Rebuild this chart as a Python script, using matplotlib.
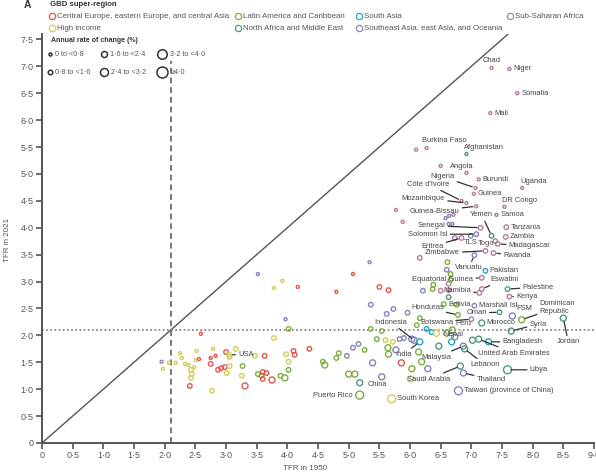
import numpy as np
import matplotlib
matplotlib.use("Agg")
import matplotlib.pyplot as plt
from matplotlib.ticker import FuncFormatter, MultipleLocator

plt.rcParams['font.family'] = ['Liberation Sans', 'DejaVu Sans']

# super-regions and their colours
regions = ['CEE', 'LAC', 'SA', 'SSA', 'HI', 'NAME', 'SEA']
region_names = {
    'CEE': 'Central Europe, eastern Europe, and central Asia',
    'LAC': 'Latin America and Caribbean',
    'SA': 'South Asia',
    'SSA': 'Sub-Saharan Africa',
    'HI': 'High income',
    'NAME': 'North Africa and Middle East',
    'SEA': 'Southeast Asia, east Asia, and Oceania',
}
region_colors = {
    'CEE': '#e2564e', 'LAC': '#7aaf3e', 'SA': '#23a5c8', 'SSA': '#b67ca2',
    'HI': '#d2ce55', 'NAME': '#4d9a7c', 'SEA': '#8585b8',
}

# labelled countries: name, TFR 1950, TFR 2021, region
lab_names = ['Chad', 'Niger', 'Somalia', 'Mali', 'Burkina Faso', 'Afghanistan', 'Angola',
             'Burundi', 'Uganda', 'Nigeria', 'Guinea', "Côte d'Ivoire", 'Mozambique',
             'DR Congo', 'Guinea-Bissau', 'Yemen', 'Samoa', 'Tanzania', 'Zambia',
             'Madagascar', 'Rwanda', 'Senegal', 'Solomon Isl', 'Eritrea', 'TLS', 'Togo',
             'Zimbabwe', 'Vanuatu', 'Pakistan', 'Equatorial Guinea', 'Eswatini', 'Namibia',
             'Palestine', 'Kenya', 'Bolivia', 'Marshall Isl', 'Honduras', 'Oman', 'FSM',
             'Dominican\nRepublic', 'Jordan', 'Botswana', 'Morocco', 'Syria', 'Peru',
             'Indonesia', 'Nepal', 'Bangladesh', 'United Arab Emirates', 'India', 'Malaysia',
             'Lebanon', 'Libya', 'Saudi Arabia', 'Thailand', 'Taiwan (province of China)',
             'South Korea', 'China', 'Puerto Rico', 'USA']
lab_1950 = [7.33, 7.62, 7.75, 7.31, 6.27, 6.92, 6.92,
            7.12, 7.83, 7.07, 7.04, 6.84, 6.92,
            7.54, 7.08, 7.33, 7.41, 7.57, 7.56,
            7.43, 7.36, 7.15, 7.08, 6.84, 6.99, 7.39,
            7.23, 7.05, 7.23, 7.17, 7.17, 7.13,
            7.59, 7.62, 6.55, 7.05, 6.78, 7.46, 7.67,
            7.82, 8.50, 7.00, 7.17, 7.65, 6.69,
            6.07, 6.68, 7.28, 7.12, 6.16, 6.87,
            6.89, 7.59, 6.82, 6.87, 6.79,
            5.70, 5.54, 5.18, 3.05]
lab_2021 = [6.97, 6.95, 6.50, 6.13, 5.48, 5.37, 5.02,
            4.90, 4.74, 4.74, 4.63, 4.50, 4.46,
            4.39, 4.40, 3.85, 4.24, 4.01, 3.83,
            3.70, 3.53, 4.00, 3.88, 3.81, 3.85, 3.75,
            3.57, 3.49, 3.20, 3.07, 2.86, 2.79,
            2.86, 2.72, 2.58, 2.55, 2.38, 2.43, 2.36,
            2.29, 2.32, 2.30, 2.23, 2.08, 2.10,
            1.91, 1.88, 1.88, 1.93, 1.88, 1.80,
            1.75, 1.36, 1.43, 1.30, 0.97,
            0.82, 1.23, 0.89, 1.64]
lab_region = ['SSA', 'SSA', 'SSA', 'SSA', 'SSA', 'NAME', 'SSA',
              'SSA', 'SSA', 'SSA', 'SSA', 'SSA', 'SSA',
              'SSA', 'SSA', 'NAME', 'SEA', 'SSA', 'SSA',
              'SSA', 'SSA', 'SSA', 'SEA', 'SSA', 'SEA', 'SSA',
              'SSA', 'SEA', 'SA', 'SSA', 'SSA', 'SSA',
              'NAME', 'SSA', 'LAC', 'SEA', 'LAC', 'NAME', 'SEA',
              'LAC', 'NAME', 'SSA', 'NAME', 'NAME', 'LAC',
              'SEA', 'SA', 'SA', 'NAME', 'SA', 'SEA',
              'NAME', 'NAME', 'NAME', 'SEA', 'SEA',
              'HI', 'SEA', 'LAC', 'HI']
# label placement: offset in points, text alignment, leader line
lab_place = [((0, 3), 'center', 'bottom', False), ((3, 0), 'left', 'center', False),
             ((3, 0), 'left', 'center', False), ((3, 0), 'left', 'center', False),
             ((-3, 3), 'left', 'bottom', False), ((-2, 2.5), 'left', 'bottom', False),
             ((-3, 2), 'center', 'bottom', False), ((3, 0), 'left', 'center', False),
             ((-1.5, 2), 'left', 'bottom', False), ((-24, 8), 'center', 'center', True),
             ((3, 0), 'left', 'center', False), ((-24, 12), 'center', 'center', True),
             ((-31, 3.5), 'center', 'center', True), ((-1.5, 2), 'left', 'bottom', False),
             ((-30, -3.5), 'center', 'center', True), ((-7, 15), 'center', 'center', True),
             ((3, 0), 'left', 'center', False), ((3, 0), 'left', 'center', False),
             ((3, 0), 'left', 'center', False), ((23, -1.5), 'center', 'center', True),
             ((17, -1.5), 'center', 'center', True), ((-35, 1.5), 'center', 'center', True),
             ((-35, 0), 'center', 'center', True), ((-21, -6), 'center', 'center', True),
             ((0, -2.5), 'center', 'top', False), ((-6.5, -2), 'center', 'center', False),
             ((-31, -1.5), 'center', 'center', True), ((-4, -9), 'center', 'center', True),
             ((3, 0), 'left', 'center', False), ((-28, -1.5), 'center', 'center', True),
             ((16, 7), 'center', 'center', True), ((-16, 2), 'center', 'center', True),
             ((22, 1.5), 'center', 'center', True), ((5, 0), 'left', 'center', True),
             ((3, 0), 'left', 'center', False), ((3, 0), 'left', 'center', False),
             ((-22, 5), 'center', 'center', True), ((-16.5, -0.5), 'center', 'center', True),
             ((3, 3), 'left', 'bottom', False), ((13, 9), 'left', 'center', True),
             ((3.5, -17), 'center', 'center', True), ((-25, -2), 'center', 'center', True),
             ((3, 0), 'left', 'center', False), ((19.5, 5), 'center', 'center', True),
             ((2, 2), 'left', 'bottom', False), ((-17, 13), 'center', 'center', True),
             ((1.5, 3), 'center', 'bottom', False), ((10, 0), 'left', 'center', True),
             ((-0.5, -10), 'left', 'center', True), ((-12, -9), 'center', 'center', True),
             ((-19.5, -8), 'center', 'center', True), ((14.5, -11.5), 'center', 'center', True),
             ((16, 0), 'left', 'center', True), ((-23, -9.5), 'center', 'center', True),
             ((20, -4.5), 'center', 'center', True), ((4, 0), 'left', 'center', False),
             ((4, 0), 'left', 'center', False), ((-3, -3), 'center', 'top', False),
             ((-5, 0), 'right', 'center', False), ((6.5, 0), 'left', 'center', True)]

# the other countries
oth_1950 = [1.95, 1.97, 2.07, 2.18, 2.28, 2.25, 2.33, 2.39, 2.41, 2.43, 2.44, 2.43, 2.48,
            2.51, 2.56, 2.52, 2.59, 2.75, 2.75, 2.79, 2.83, 2.87, 2.92, 2.98, 2.77, 3.00,
            3.16, 3.06, 3.06, 3.01, 3.26, 3.27, 3.31, 3.47, 3.63, 3.52, 3.58, 3.60, 3.66,
            3.60, 3.75, 3.89, 3.96, 4.02, 4.02, 3.98, 4.10, 4.12, 4.36, 3.78, 4.02, 3.97,
            3.52, 3.92, 3.78, 4.17, 5.07, 4.80, 5.34, 5.50, 5.65, 5.36, 5.62, 5.73, 4.58,
            4.61, 4.80, 4.84, 4.97, 5.07, 5.16, 5.26, 5.39, 5.00, 5.10, 5.18, 5.36, 5.54,
            5.46, 5.60, 5.64, 5.65, 5.77, 5.72, 5.83, 5.90, 6.03, 6.14, 5.86, 6.19, 6.29,
            6.03, 6.01, 6.16, 6.11, 6.27, 6.35, 6.43, 6.60, 6.73, 7.02, 6.47, 5.96, 6.21,
            6.37, 6.38, 6.50, 6.63, 6.63, 6.63, 6.76, 5.77, 5.88, 6.58, 6.64, 6.71, 6.63,
            6.69, 6.16, 6.61, 6.60, 6.66, 6.66, 6.50, 6.10, 6.73]
oth_2021 = [1.51, 1.38, 1.49, 1.49, 1.58, 1.67, 1.47, 1.45, 1.06, 1.21, 1.28, 1.36, 1.41,
            1.54, 1.56, 1.71, 2.03, 1.47, 1.58, 1.75, 1.62, 1.36, 1.39, 1.41, 0.97, 1.69,
            1.75, 1.60, 1.43, 1.30, 1.25, 1.43, 1.06, 1.62, 1.62, 1.28, 1.25, 1.32, 1.30,
            1.19, 1.17, 1.25, 1.21, 1.36, 1.51, 1.65, 1.71, 1.64, 1.75, 1.95, 2.12, 2.30,
            3.14, 3.01, 2.88, 2.90, 3.14, 2.81, 3.36, 2.90, 2.84, 2.57, 2.40, 2.49, 1.51,
            1.45, 1.58, 1.67, 1.62, 1.77, 1.84, 1.73, 1.49, 1.28, 1.28, 1.12, 2.12, 2.08,
            1.93, 1.91, 1.77, 1.65, 1.73, 1.88, 1.93, 1.95, 1.93, 1.69, 1.49, 1.51, 1.38,
            1.38, 1.19, 2.32, 2.19, 2.12, 2.06, 2.04, 2.04, 1.97, 1.91, 1.80, 2.42, 2.83,
            2.86, 2.94, 2.83, 2.84, 2.71, 2.96, 2.57, 4.33, 4.11, 4.18, 4.22, 4.24, 4.07,
            4.07, 3.44, 3.36, 3.22, 3.14, 3.03, 5.15, 5.45, 3.81]
oth_region = ['SEA', 'HI', 'HI', 'HI', 'HI', 'HI', 'HI', 'HI', 'CEE', 'HI', 'HI', 'HI', 'HI',
              'HI', 'CEE', 'HI', 'CEE', 'CEE', 'CEE', 'HI', 'CEE', 'CEE', 'CEE', 'CEE', 'HI', 'CEE',
              'HI', 'HI', 'HI', 'HI', 'HI', 'LAC', 'CEE', 'HI', 'CEE', 'LAC', 'LAC', 'CEE', 'CEE',
              'CEE', 'CEE', 'LAC', 'LAC', 'LAC', 'HI', 'HI', 'CEE', 'CEE', 'CEE', 'HI', 'LAC', 'SEA',
              'SEA', 'HI', 'HI', 'CEE', 'CEE', 'CEE', 'SEA', 'CEE', 'CEE', 'SEA', 'SEA', 'SEA', 'LAC',
              'LAC', 'LAC', 'LAC', 'SEA', 'SEA', 'SEA', 'LAC', 'SEA', 'LAC', 'LAC', 'NAME', 'LAC', 'LAC',
              'LAC', 'HI', 'LAC', 'LAC', 'SEA', 'HI', 'SEA', 'SEA', 'SEA', 'LAC', 'CEE', 'LAC', 'SEA',
              'LAC', 'HI', 'LAC', 'LAC', 'SA', 'SA', 'HI', 'LAC', 'SEA', 'NAME', 'NAME', 'SEA', 'SEA',
              'LAC', 'LAC', 'SSA', 'SSA', 'NAME', 'SSA', 'LAC', 'SSA', 'SSA', 'SEA', 'SEA', 'SSA', 'SEA',
              'SEA', 'SSA', 'LAC', 'SEA', 'LAC', 'LAC', 'SSA', 'SSA', 'SSA']

replacement = 2.1
rate_edges = [0.8, 1.6, 2.4, 3.2, 4.0]
rate_labels = ['0 to <0·8', '0·8 to <1·6', '1·6 to <2·4', '2·4 to <3·2', '3·2 to <4·0', '≥4·0']
size_px = [3.0, 4.5, 6.0, 8.0, 9.5, 11.0]

W, H = 596, 475


def msize(x1950, x2021):
    rate = 100 * np.log(np.array(x1950) / np.array(x2021)) / (2021 - 1950)
    cat = np.digitize(rate, rate_edges)
    return (np.array(size_px)[cat] * 0.72) ** 2


fig = plt.figure(figsize=(W / 100, H / 100), dpi=100)
ax = fig.add_axes([42 / W, 32 / H, 552 / W, 409 / H])

x_all = np.array(oth_1950 + lab_1950)
y_all = np.array(oth_2021 + lab_2021)
r_all = oth_region + lab_region
ax.scatter(x_all, y_all, s=msize(x_all, y_all), facecolors='none',
           edgecolors=[region_colors[r] for r in r_all], linewidths=1.0, zorder=3)

ax.axline((0, 0), slope=1, color='#555555', lw=1.0, zorder=1)
ax.axhline(replacement, color='#777777', lw=1.2, ls=(0, (1, 1.5)), zorder=1)
ax.vlines(replacement, 0, 7.1, color='#777777', lw=1.4, ls=(0, (3, 2)), zorder=1)

for name, xv, yv, (off, ha, va, line) in zip(lab_names, lab_1950, lab_2021, lab_place):
    ax.annotate(name, xy=(xv, yv), xytext=off, textcoords='offset points',
                ha=ha, va=va, fontsize=5.4, color='#444444', linespacing=1.1,
                arrowprops=dict(arrowstyle='-', color='#333333', lw=0.9,
                                shrinkA=0, shrinkB=2.5) if line else None, zorder=4)

ax.set_xlim(0, 9.0)
ax.set_ylim(0, 7.6)
ax.xaxis.set_major_locator(MultipleLocator(0.5))
fmt = FuncFormatter(lambda v, p: '0' if abs(v) < 1e-9 else f'{v:.1f}'.replace('.', '·'))
ax.xaxis.set_major_formatter(fmt)
ax.yaxis.set_major_formatter(fmt)
ax.set_yticks(np.arange(0, 7.51, 0.5))
ax.tick_params(direction='out', length=4, width=1.2, colors='#555555', labelsize=6.5,
               labelcolor='#555555', pad=2)
for s in ['top', 'right']:
    ax.spines[s].set_visible(False)
for s in ['left', 'bottom']:
    ax.spines[s].set_color('#555555')
    ax.spines[s].set_linewidth(1.4)

fig.text(305 / W, 1 - 469 / H, 'TFR in 1950', ha='center', va='center', fontsize=5.8, color='#555555')
fig.text(8 / W, 1 - 240 / H, 'TFR in 2021', ha='center', va='center', rotation=90,
         fontsize=5.8, color='#555555')

# super-region legend
fig.text(27 / W, 1 - 5 / H, 'A', ha='center', va='center', fontsize=7.5, fontweight='bold', color='#333333')
fig.text(50 / W, 1 - 5 / H, 'GBD super-region', ha='left', va='center', fontsize=5.6,
         fontweight='bold', color='#333333')
leg_xy = {'CEE': (52, 16), 'LAC': (238, 16), 'SA': (359, 16), 'SSA': (510, 16),
          'HI': (52, 28), 'NAME': (238, 28), 'SEA': (359, 28)}
for r in regions:
    px, py = leg_xy[r]
    fig.lines.append(plt.Line2D([px / W], [1 - py / H], marker='o', ms=4.5, mfc='none',
                                mec=region_colors[r], mew=0.9, transform=fig.transFigure))
    fig.text((px + 5) / W, 1 - py / H, region_names[r], ha='left', va='center',
             fontsize=5.7, color='#555555')

# size legend
fig.text(51 / W, 1 - 41 / H, 'Annual rate of change (%)', ha='left', va='center',
         fontsize=5.0, fontweight='bold', color='#333333')
size_xy = [(50, 54), (50, 72), (104, 54), (104, 72), (162, 54), (162, 72)]
for (px, py), lbl, d in zip(size_xy, rate_labels, size_px):
    fig.lines.append(plt.Line2D([px / W], [1 - py / H], marker='o', ms=d * 0.72, mfc='none',
                                mec='#333333', mew=1.1, transform=fig.transFigure))
    fig.text((px + d / 2 + 3) / W, 1 - py / H, lbl, ha='left', va='center',
             fontsize=5.2, color='#555555')

fig.savefig('out.png', dpi=100)
